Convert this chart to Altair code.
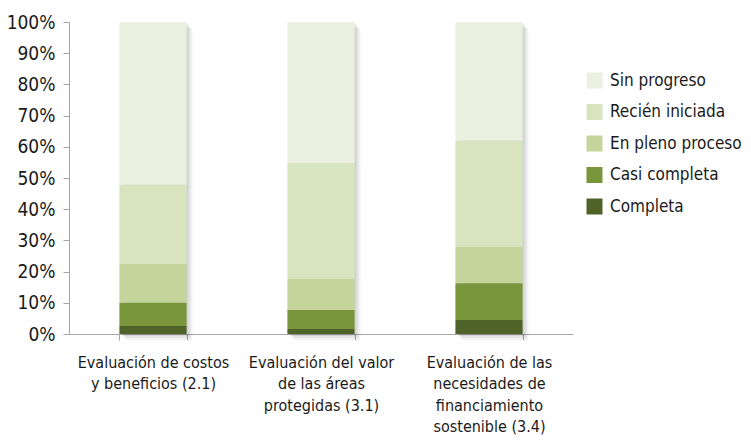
import altair as alt
import pandas as pd

categories = [
    "Evaluación de costos\ny beneficios (2.1)",
    "Evaluación del valor\nde las áreas\nprotegidas (3.1)",
    "Evaluación de las\nnecesidades de\nfinanciamiento\nsostenible (3.4)",
]
series = ["Sin progreso", "Recién iniciada", "En pleno proceso", "Casi completa", "Completa"]
values = {
    "Completa":         [2.6, 1.6, 4.5],
    "Casi completa":    [7.4, 6.1, 11.8],
    "En pleno proceso": [12.4, 9.9, 11.6],
    "Recién iniciada":  [25.4, 37.2, 34.0],
    "Sin progreso":     [52.2, 45.2, 38.1],
}
colors = ["#EBF0E0", "#D8E4BF", "#C4D59C", "#7A963D", "#4F6228"]
y_ticks = [0, 10, 20, 30, 40, 50, 60, 70, 80, 90, 100]

rows = []
for s in series:
    for c, v in zip(categories, values[s]):
        rows.append({"cat": c, "serie": s, "val": v, "ord": len(series) - series.index(s)})
df = pd.DataFrame(rows)
tot = pd.DataFrame({"cat": categories, "val": [sum(values[s][i] for s in series) for i in range(len(categories))]})

FONT = "DejaVu Sans Condensed"

xscale = alt.Scale(paddingInner=0.6, paddingOuter=0.3)
xenc = alt.X("cat:N", sort=categories, scale=xscale,
             axis=alt.Axis(title=None, labelAngle=0, labelExpr="split(datum.label, '\\n')",
                           tickBand="extent", tickSize=6, tickColor="#A6A6A6",
                           domainColor="#A6A6A6", labelFontSize=16, labelFont=FONT,
                           labelColor="#1a1a1a", labelLineHeight=21.5, labelPadding=14,
                           labelBaseline="top"))

yscale = alt.Scale(domain=[0, 100], nice=False)
yaxis = alt.Axis(title=None, values=y_ticks, labelOverlap=False,
                 labelExpr="datum.value + '%'",
                 grid=False, tickSize=6, tickColor="#A6A6A6", domainColor="#A6A6A6",
                 labelFontSize=19, labelFont=FONT, labelColor="#1a1a1a",
                 labelPadding=8)

shadows = []
for off, op in [(2, 0.07), (4, 0.06), (6, 0.05)]:
    shadows.append(
        alt.Chart(tot).mark_bar(color="#000000", opacity=op, xOffset=off, yOffset=off).encode(
            x=alt.X("cat:N", sort=categories, scale=xscale, axis=None),
            y=alt.Y("val:Q", scale=yscale, axis=None)
        )
    )

bars = alt.Chart(df).mark_bar().encode(
    x=xenc,
    y=alt.Y("val:Q", stack="zero", scale=yscale, axis=yaxis),
    color=alt.Color("serie:N", scale=alt.Scale(domain=series, range=colors),
                    legend=alt.Legend(title=None, orient="none", legendX=517, legendY=50,
                                      symbolType="square", symbolSize=256, symbolStrokeWidth=0,
                                      labelFontSize=17, labelFont=FONT, labelColor="#1a1a1a",
                                      labelOffset=7, rowPadding=13.5, labelLimit=300)),
    order=alt.Order("ord:Q", sort="ascending"),
)

chart = alt.layer(*shadows, bars).resolve_axis(x="independent", y="independent").properties(
    width=504, height=312,
    padding={"left": 61, "top": 14, "right": 170, "bottom": 102},
    autosize=alt.AutoSizeParams(type="none"),
).configure_view(stroke=None)

chart.save("out.html", embed_options={"renderer": "svg", "actions": False})
